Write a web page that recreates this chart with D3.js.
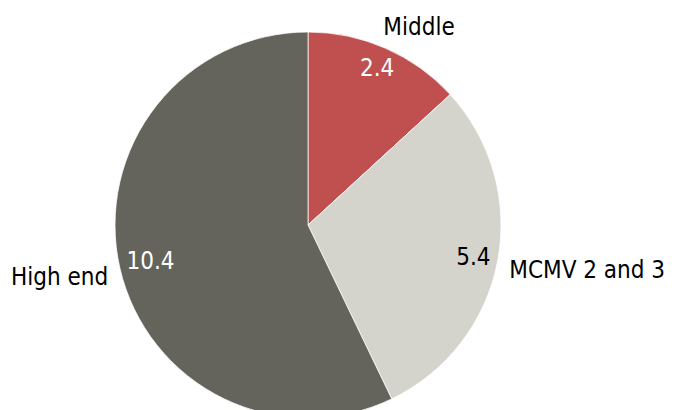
<!DOCTYPE html>
<html>
<head>
<meta charset="utf-8">
<script src="https://cdn.jsdelivr.net/npm/d3@7"></script>
<style>
  html, body { margin: 0; padding: 0; background: #ffffff; }
  svg text { font-family: "DejaVu Sans Condensed", "DejaVu Sans", sans-serif; font-size: 24px; }
</style>
</head>
<body>
<svg id="chart" width="674" height="410"></svg>
<script>
// Segment names and their values
const categories = ["Middle", "MCMV 2 and 3", "High end"];
const values = [2.4, 5.4, 10.4];
const colors = ["#C0504F", "#D4D4CC", "#64645C"];
const valueTextColors = ["#ffffff", "#000000", "#ffffff"];

const data = categories.map((c, i) => ({ name: c, value: values[i] }));

const cx = 308, cy = 225, radius = 193;

const svg = d3.select("#chart");
const g = svg.append("g").attr("transform", `translate(${cx},${cy})`);

const pie = d3.pie().sort(null).value(d => d.value);
const arcs = pie(data);

const arc = d3.arc().innerRadius(0).outerRadius(radius);
const nameArc = d3.arc().innerRadius(205).outerRadius(205);
const midAngle = d => (d.startAngle + d.endAngle) / 2;

g.selectAll("path.slice")
  .data(arcs)
  .join("path")
  .attr("class", "slice")
  .attr("d", arc)
  .attr("fill", (d, i) => colors[i])
  .attr("stroke", "#ffffff")
  .attr("stroke-width", 0.75);

// Values inside the slices, pushed against the rim according to their size
const valueLabels = g.selectAll("text.value")
  .data(arcs)
  .join("text")
  .attr("class", "value")
  .attr("text-anchor", "middle")
  .attr("dy", "0.35em")
  .attr("fill", (d, i) => valueTextColors[i])
  .text(d => d3.format(".1f")(d.data.value));

valueLabels.each(function (d) {
  const w = this.getComputedTextLength();
  const h = 18;
  const a = midAngle(d);
  const r = radius - 6 - Math.abs(Math.sin(a)) * w / 2 - Math.abs(Math.cos(a)) * h / 2;
  d3.select(this).attr("transform", `translate(${Math.sin(a) * r},${-Math.cos(a) * r})`);
});

// Category names outside the pie
g.selectAll("text.name")
  .data(arcs)
  .join("text")
  .attr("class", "name")
  .attr("transform", d => `translate(${nameArc.centroid(d)})`)
  .attr("text-anchor", d => {
    const s = Math.sin(midAngle(d));
    return s > 0.3 ? "start" : s < -0.3 ? "end" : "middle";
  })
  .attr("dx", d => Math.cos(midAngle(d)) > 0.8 ? "-0.3em" : "0")
  .attr("dy", d => Math.cos(midAngle(d)) > 0.8 ? "-0.1em" : "0.6em")
  .attr("fill", "#000000")
  .text(d => d.data.name);
</script>
</body>
</html>
